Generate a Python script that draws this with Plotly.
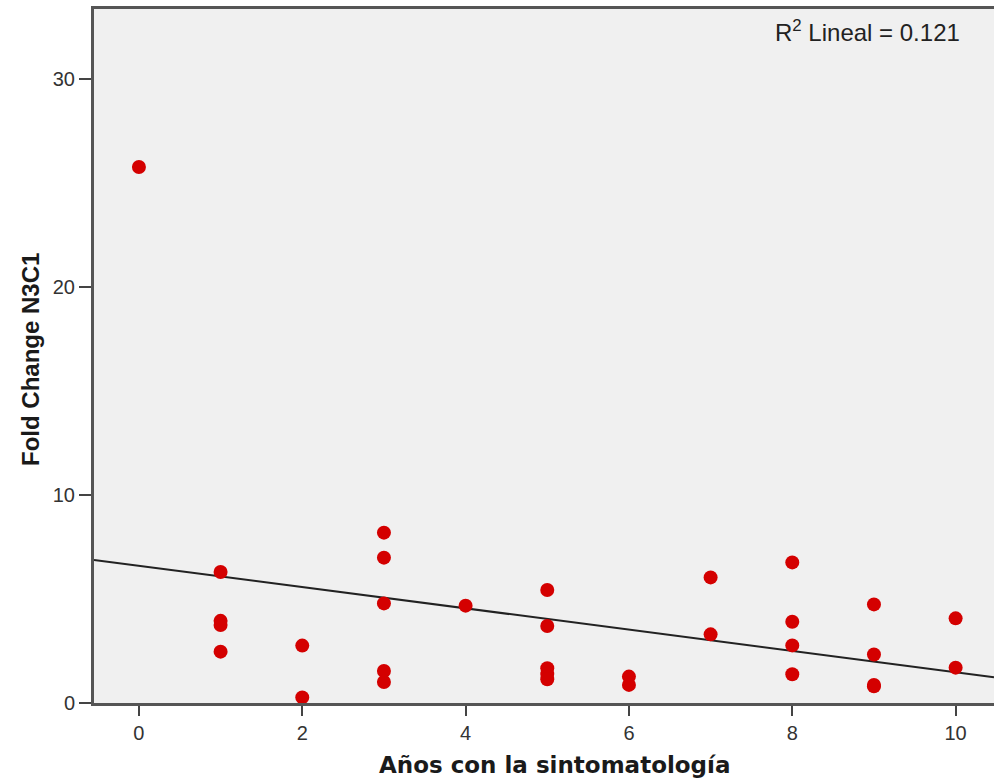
import plotly.graph_objects as go

# Data
years = [0,
         1, 1, 1, 1,
         2, 2,
         3, 3, 3, 3, 3,
         4,
         5, 5, 5, 5, 5,
         6, 6,
         7, 7,
         8, 8, 8, 8,
         9, 9, 9, 9,
         10, 10]
fold_change = [25.77,
               6.30, 3.95, 3.75, 2.47,
               2.76, 0.27,
               8.19, 6.99, 4.79, 1.54, 1.01,
               4.68,
               5.43, 3.70, 1.67, 1.39, 1.14,
               1.27, 0.87,
               6.04, 3.30,
               6.76, 3.91, 2.77, 1.38,
               4.74, 2.33, 0.87, 0.80,
               4.07, 1.70]

# Linear fit
fit_intercept = 6.60
fit_slope = -0.512
x_range = [-0.55, 10.47]
y_range = [0, 33.37]
x_ticks = [0, 2, 4, 6, 8, 10]
y_ticks = [0, 10, 20, 30]

fit_x = x_range
fit_y = [fit_intercept + fit_slope * v for v in fit_x]

fig = go.Figure()
fig.add_trace(go.Scatter(x=fit_x, y=fit_y, mode="lines",
                         line=dict(color="#222222", width=2), hoverinfo="skip"))
fig.add_trace(go.Scatter(x=years, y=fold_change, mode="markers",
                         marker=dict(color="#d40000", size=14, line=dict(width=0))))

axis_font = dict(family="Liberation Sans, Arial, sans-serif", size=20, color="#333333")
fig.update_layout(
    width=994, height=780,
    margin=dict(l=94, r=0, t=9, b=77, autoexpand=False),
    paper_bgcolor="white",
    plot_bgcolor="#f0f0f0",
    showlegend=False,
    xaxis=dict(range=x_range, tickvals=x_ticks, ticks="outside", ticklen=10, tickwidth=2,
               tickcolor="#444444", showgrid=False, zeroline=False, showline=True,
               linecolor="#555555", linewidth=3, mirror=True, tickfont=axis_font,
               automargin=False),
    yaxis=dict(range=y_range, tickvals=y_ticks, ticks="outside", ticklen=12, tickwidth=2,
               tickcolor="#444444", showgrid=False, zeroline=False, showline=True,
               linecolor="#555555", linewidth=3, mirror=False, tickfont=axis_font,
               automargin=False),
    annotations=[
        dict(text="R<sup>2</sup> Lineal = 0.121", xref="paper", yref="paper",
             x=(962 - 94) / 900, y=(703 - 31) / 694, xanchor="right", yanchor="middle",
             showarrow=False,
             font=dict(family="Liberation Sans, Arial, sans-serif", size=24, color="#222222")),
        dict(text="<b>Años con la sintomatología</b>", xref="paper", yref="paper",
             x=(554 - 94) / 900, y=-(765 - 703) / 694, xanchor="center", yanchor="middle",
             showarrow=False,
             font=dict(family="DejaVu Sans, Verdana, sans-serif", size=23, color="#1a1a1a")),
        dict(text="<b>Fold Change N3C1</b>", xref="paper", yref="paper",
             x=(30 - 94) / 900, y=(703 - 360) / 694, xanchor="center", yanchor="middle",
             textangle=-90, showarrow=False,
             font=dict(family="Liberation Sans, Arial, sans-serif", size=24, color="#1a1a1a")),
    ],
)

fig.write_html("out.html", config={"displayModeBar": False},
               post_script="document.body.style.margin='0';document.body.style.overflow='hidden';")
